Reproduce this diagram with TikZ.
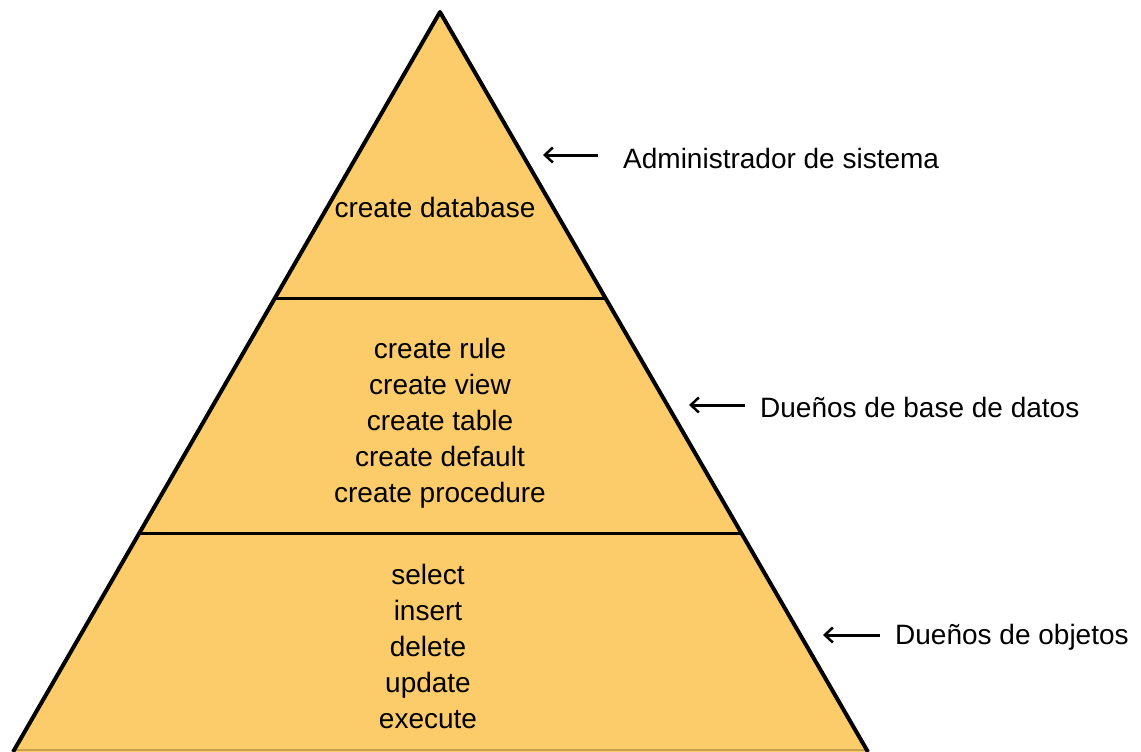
\documentclass[tikz,border=0pt]{standalone}
\usepackage{fontspec}
\setmainfont{Liberation Sans}
\usetikzlibrary{arrows.meta}
\definecolor{pyrfill}{RGB}{252,203,106}
\definecolor{pyrbase}{RGB}{200,160,80}
\tikzset{
  side/.style={line width=4pt, line join=round},
  divider/.style={line width=3pt},
  lbl/.style={inner sep=0pt, font=\fontsize{28}{36}\selectfont, align=center},
  side label/.style={inner sep=0pt, anchor=west, font=\fontsize{28}{34}\selectfont},
  pointer/.style={line width=3pt, -{Straight Barb[length=8pt,width=15pt,line width=2.5pt]}}
}
\begin{document}
\begin{tikzpicture}[x=1pt,y=-1pt]
\useasboundingbox (0,0) rectangle (1141,752);
\coordinate (apex) at (440,12);
\coordinate (bl) at (13,752);
\coordinate (br) at (868,752);
\fill[pyrfill] (apex) -- (bl) -- (br) -- cycle;
\draw[pyrbase, line width=2pt] (15,750) -- (866,750);
\draw[side] (bl) -- (apex) -- (br);
\coordinate (d1l) at (275,298);
\coordinate (d1r) at (605.5,298);
\coordinate (d2l) at (139,533);
\coordinate (d2r) at (741,533);
\draw[divider] (d1l) -- (d1r);
\draw[divider] (d2l) -- (d2r);

\node[lbl] (top) at (435,207) {create database};
\node[lbl, anchor=north] (mid) at (440,338) {create rule\\create view\\create table\\create default\\create procedure};
\node[lbl, anchor=north] (bot) at (428,564) {select\\insert\\delete\\update\\execute};

\node[side label] (l1) at (623,158) {Administrador de sistema};
\node[side label] (l2) at (760,407) {Dueños de base de datos};
\node[side label] (l3) at (895,637) {Dueños de objetos};

\coordinate (a1) at (543,155);
\coordinate (a2) at (689,405);
\coordinate (a3) at (823,635);
\draw[pointer] ([xshift=-25pt]l1.west |- a1) -- (a1);
\draw[pointer] ([xshift=-15pt]l2.west |- a2) -- (a2);
\draw[pointer] ([xshift=-15pt]l3.west |- a3) -- (a3);
\end{tikzpicture}
\end{document}
